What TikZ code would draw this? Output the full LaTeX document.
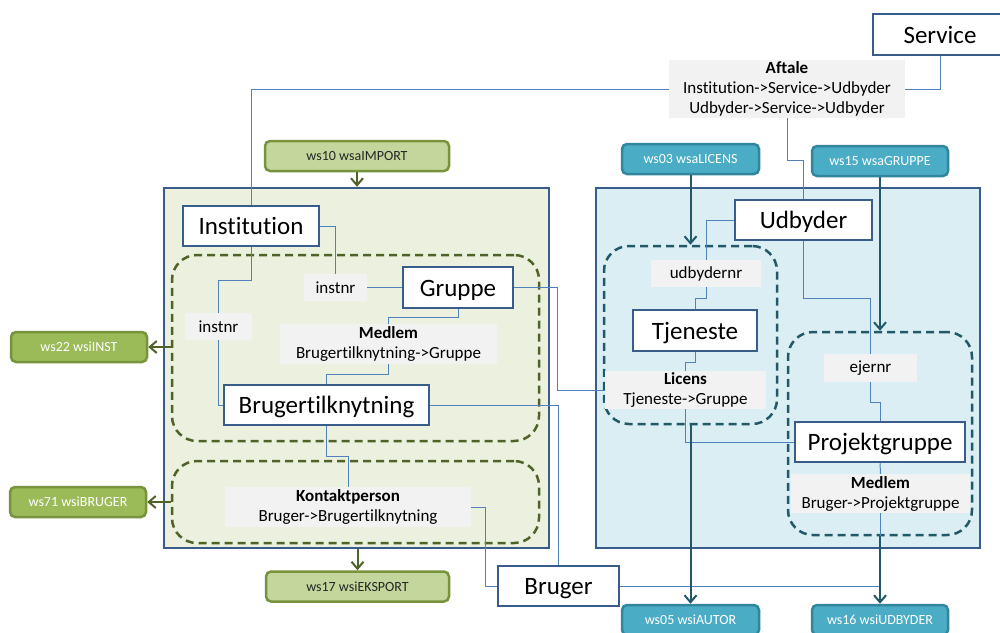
\documentclass[tikz,border=0pt]{standalone}
\usepackage{fontspec}
\setmainfont{Carlito}[Ligatures=NoCommon]
\usetikzlibrary{arrows.meta}
\definecolor{kant}{HTML}{385D8A}
\definecolor{linie}{HTML}{4F81BD}
\definecolor{graa}{HTML}{F2F2F2}
\definecolor{lysoliven}{HTML}{EBF1DE}
\definecolor{lysblaa}{HTML}{DBEEF4}
\definecolor{oliven}{HTML}{4F6228}
\definecolor{olivenkant}{HTML}{77933C}
\definecolor{lysgroen}{HTML}{C3D69B}
\definecolor{groen}{HTML}{9BBB59}
\definecolor{morkteal}{HTML}{215968}
\definecolor{wsteal}{HTML}{4BACC6}
\definecolor{tealkant}{HTML}{31859C}

\begin{document}
\begin{tikzpicture}[x=1pt,y=-1pt,
  entitet/.style={draw=kant,line width=2.5pt,fill=white,inner sep=0pt,
    font=\fontsize{25}{30}\selectfont,text height=22pt,text depth=5pt},
  etiket/.style={fill=graa,inner sep=0pt,align=center,
    font=\fontsize{17}{20}\selectfont},
  omraade/.style={draw=kant,line width=2.5pt,inner sep=0pt},
  stiplet/.style={line width=2.5pt,dash pattern=on 8pt off 5pt,
    rounded corners=25pt,inner sep=0pt},
  ws/.style={rounded corners=5pt,line width=2.5pt,inner sep=0pt,
    minimum width=136,minimum height=30,font=\fontsize{14}{16}\selectfont},
  wslys/.style={ws,draw=olivenkant,fill=lysgroen,text=black!85},
  wsgroen/.style={ws,draw=olivenkant,fill=groen,text=white},
  wsblaa/.style={ws,draw=tealkant,fill=wsteal,text=white},
  forbind/.style={draw=linie,line width=1pt},
  olivpil/.style={draw=oliven,line width=2pt,-{Straight Barb[length=7pt,width=12pt]}},
  tealpil/.style={draw=morkteal,line width=2pt,-{Straight Barb[length=7pt,width=12pt]}}]
\useasboundingbox (0,0) rectangle (1000,632);

\node[omraade,fill=lysoliven,minimum width=385,minimum height=360] (venstre) at (356.5,368) {};
\node[omraade,fill=lysblaa,minimum width=384,minimum height=360] (hoejre) at (788,368) {};
\node[stiplet,draw=oliven,minimum width=367,minimum height=186] (gruppeomr) at (355.5,348) {};
\node[stiplet,draw=oliven,minimum width=367,minimum height=82] (kontaktomr) at (355.5,502) {};
\node[stiplet,draw=morkteal,minimum width=173,minimum height=178] (licensomr) at (690.5,335) {};
\node[stiplet,draw=morkteal,minimum width=184,minimum height=203] (projektomr) at (880,433.5) {};

\node[entitet,minimum width=134,minimum height=41] (service) at (940,34.5) {Service};
\node[entitet,minimum width=136,minimum height=40] (institution) at (251,226) {Institution};
\node[entitet,minimum width=110,minimum height=41] (gruppe) at (458,287.5) {Gruppe};
\node[entitet,minimum width=205,minimum height=40] (brugertilk) at (326.5,405) {Brugertilknytning};
\node[entitet,minimum width=121,minimum height=40] (bruger) at (558.5,586) {Bruger};
\node[entitet,minimum width=137,minimum height=40] (udbyder) at (803.5,220) {Udbyder};
\node[entitet,minimum width=124,minimum height=41] (tjeneste) at (695,330.5) {Tjeneste};
\node[entitet,minimum width=170,minimum height=40] (projektgruppe) at (880,442) {Projektgruppe};

\node[etiket,minimum width=236,minimum height=58] (aftale) at (787,89)
  {\textbf{Aftale}\\Institution->Service->Udbyder\\Udbyder->Service->Udbyder};
\node[etiket,minimum width=67,minimum height=27] (instnrA) at (218.5,326.5) {instnr};
\node[etiket,minimum width=63,minimum height=27] (instnrB) at (335.5,287.5) {instnr};
\node[etiket,minimum width=217,minimum height=40] (medlemA) at (388.5,344)
  {\textbf{Medlem}\\Brugertilknytning->Gruppe};
\node[etiket,minimum width=246,minimum height=40] (kontakt) at (348,507)
  {\textbf{Kontaktperson}\\Bruger->Brugertilknytning};
\node[etiket,minimum width=110,minimum height=27] (udbydernr) at (706,273.5) {udbydernr};
\node[etiket,minimum width=161,minimum height=38] (licens) at (685.5,390)
  {\textbf{Licens}\\Tjeneste->Gruppe};
\node[etiket,minimum width=93,minimum height=28] (ejernr) at (870.5,368) {ejernr};
\node[etiket,minimum width=179,minimum height=39] (medlemB) at (880.5,493.5)
  {\textbf{Medlem}\\Bruger->Projektgruppe};

\node[wslys,minimum width=184] (ws10) at (357,156) {ws10 wsaIMPORT};
\node[wslys,minimum width=183] (ws17) at (357.5,586.5) {ws17 wsiEKSPORT};
\node[wsgroen] (ws22) at (79,347) {ws22 wsiINST};
\node[wsgroen] (ws71) at (78,502) {ws71 wsiBRUGER};
\node[wsblaa,minimum width=137] (ws03) at (690.5,159) {ws03 wsaLICENS};
\node[wsblaa] (ws15) at (880,161) {ws15 wsaGRUPPE};
\node[wsblaa,minimum width=137] (ws05) at (690.5,620) {ws05 wsiAUTOR};
\node[wsblaa] (ws16) at (880,620) {ws16 wsiUDBYDER};

\draw[forbind] (aftale.east) -| (service.south);
\draw[forbind] (aftale.west) -| (institution.north);
\draw[forbind] (aftale.south) -- ++(0,42) -| (udbyder.north);
\draw[forbind] (institution.east) -| (instnrB.north);
\draw[forbind] (instnrB.east) -- (gruppe.west);
\draw[forbind] (institution.south) -- ++(0,33) -| (instnrA.north);
\draw[forbind] (instnrA.south) |- (brugertilk.west);
\draw[forbind] (gruppe.south) -- ++(0,8) -| (medlemA.north);
\draw[forbind] (medlemA.south) -- ++(0,10) -| (brugertilk.north);
\draw[forbind] (brugertilk.south) -- ++(0,30) -| (kontakt.north);
\draw[forbind] (kontakt.east) -- ++(14,0) |- (bruger.west);
\draw[forbind] (brugertilk.east) -| (bruger.north);
\draw[forbind] (gruppe.east) -- ++(43,0) |- (licens.west);
\draw[forbind] (udbyder.west) -| (udbydernr.north);
\draw[forbind] (udbydernr.south) -- ++(0,11) -| (tjeneste.north);
\draw[forbind] (tjeneste.south) -- ++(0,10) -| (licens.north);
\draw[forbind] (licens.south) |- (projektgruppe.west);
\draw[forbind] (udbyder.south) -- ++(0,57) -| (ejernr.north);
\draw[forbind] (ejernr.south) -- ++(0,20) -| (projektgruppe.north);
\draw[forbind] (projektgruppe.south) -- (medlemB.north);
\draw[forbind] (bruger.east) -| (medlemB.south);

\draw[olivpil] (ws10.south) -- (ws10.south |- venstre.north);
\draw[olivpil] (ws17.north |- venstre.south) -- (ws17.north);
\draw[olivpil] (ws22.east -| gruppeomr.west) -- (ws22.east);
\draw[olivpil] (kontaktomr.west) -- (ws71.east);
\draw[tealpil] (ws03.south) -- (licensomr.north);
\draw[tealpil] (ws15.south) -- (projektomr.north);
\draw[tealpil] (licensomr.south) -- (ws05.north);
\draw[tealpil] (projektomr.south) -- (ws16.north);
\end{tikzpicture}
\end{document}
